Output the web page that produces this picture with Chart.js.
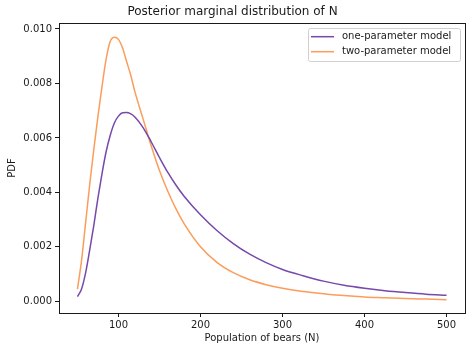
<!DOCTYPE html>
<html>
<head>
<meta charset="utf-8">
<script src="https://cdn.jsdelivr.net/npm/chart.js@4/dist/chart.umd.min.js"></script>
<style>
  html, body { margin: 0; padding: 0; background: #fff; }
  #chart { display: block; }
</style>
</head>
<body>
<canvas id="chart" width="472" height="352"></canvas>
<script>
// Datos
const populationN = [50, 55, 60, 65, 70, 75, 80, 85, 90, 95, 100, 105, 110, 115, 120, 130, 140, 150, 160, 170, 180, 200, 220, 240, 260, 280, 300, 325, 350, 375, 400, 425, 450, 475, 500];
const oneParam = [0.00017, 0.00045, 0.00105, 0.00190, 0.00280, 0.00380, 0.00470, 0.00550, 0.00610, 0.00655, 0.00680, 0.00692, 0.00693, 0.00688, 0.00677, 0.00638, 0.00585, 0.00528, 0.00474, 0.00427, 0.00386, 0.00318, 0.00260, 0.00212, 0.00173, 0.00142, 0.00117, 0.00094, 0.00074, 0.00059, 0.00048, 0.00039, 0.00032, 0.00026, 0.00022];
const twoParam = [0.00045, 0.00150, 0.00290, 0.00430, 0.00560, 0.00680, 0.00790, 0.00890, 0.00955, 0.00970, 0.00962, 0.00930, 0.00880, 0.00830, 0.00770, 0.00670, 0.00570, 0.00480, 0.00405, 0.00340, 0.00285, 0.00200, 0.00143, 0.00105, 0.00079, 0.00061, 0.00048, 0.00036, 0.00028, 0.00021, 0.00016, 0.00013, 0.00010, 0.00008, 0.00006];
const xTicks = [100, 200, 300, 400, 500];
const yTicks = [0, 0.002, 0.004, 0.006, 0.008, 0.010];
const seriesNames = ["one-parameter model", "two-parameter model"];

const FONT = "'DejaVu Sans', sans-serif";
const INK = "#1a1a1a";
const PURPLE = "#7649aa";
const ORANGE = "#fb9d5b";

const toPoints = (ys) => populationN.map((x, i) => ({ x, y: ys[i] }));

// Marco completo (4 lados) como matplotlib
const framePlugin = {
  id: "frame",
  afterDatasetsDraw(chart) {
    const { ctx, chartArea: a } = chart;
    ctx.save();
    ctx.strokeStyle = INK;
    ctx.lineWidth = 1;
    ctx.strokeRect(Math.round(a.left) + 0.5, Math.round(a.top) + 0.5,
      Math.round(a.right - a.left), Math.round(a.bottom - a.top));
    ctx.restore();
  }
};

// Leyenda dentro del area, con caja
const legendPlugin = {
  id: "boxLegend",
  afterDraw(chart) {
    const { ctx, chartArea: a } = chart;
    const right = a.right - 5, top = a.top + 5;
    const w = 152, h = 33;
    const left = right - w;
    ctx.save();
    ctx.beginPath();
    ctx.roundRect(left + 0.5, top + 0.5, w, h, 2);
    ctx.fillStyle = "rgba(255,255,255,0.8)";
    ctx.fill();
    ctx.strokeStyle = "#d0d0d0";
    ctx.lineWidth = 1;
    ctx.stroke();
    ctx.font = "10px " + FONT;
    ctx.textBaseline = "middle";
    chart.data.datasets.forEach((ds, i) => {
      const y = top + 8.7 + i * 15;
      ctx.strokeStyle = ds.borderColor;
      ctx.lineWidth = 1.5;
      ctx.beginPath();
      ctx.moveTo(left + 3, y);
      ctx.lineTo(left + 26, y);
      ctx.stroke();
      ctx.fillStyle = INK;
      ctx.fillText(ds.label, left + 34, y);
    });
    ctx.restore();
  }
};

new Chart(document.getElementById("chart").getContext("2d"), {
  type: "line",
  data: {
    datasets: [
      { label: seriesNames[0], data: toPoints(oneParam), borderColor: PURPLE, borderWidth: 1.5,
        pointRadius: 0, fill: false, cubicInterpolationMode: "monotone" },
      { label: seriesNames[1], data: toPoints(twoParam), borderColor: ORANGE, borderWidth: 1.5,
        pointRadius: 0, fill: false, cubicInterpolationMode: "monotone" }
    ]
  },
  options: {
    responsive: false,
    animation: false,
    devicePixelRatio: 1,
    layout: { padding: { left: 0, right: 7, top: 0, bottom: 0 } },
    plugins: {
      legend: { display: false },
      tooltip: { enabled: false },
      title: {
        display: true,
        text: "Posterior marginal distribution of N",
        color: INK,
        font: { family: FONT, size: 12, weight: "normal", lineHeight: 1.2 },
        padding: { top: 5, bottom: 3.6 }
      }
    },
    scales: {
      x: {
        type: "linear",
        min: 27.5,
        max: 522.5,
        afterBuildTicks: (s) => { s.ticks = xTicks.map(v => ({ value: v })); },
        afterFit: (s) => { s.height = 39; },
        grid: { drawOnChartArea: false, drawTicks: true, tickLength: 4, color: INK },
        border: { display: false },
        ticks: { color: INK, padding: 2, maxRotation: 0, font: { family: FONT, size: 10 } },
        title: { display: true, text: "Population of bears (N)", color: INK,
          font: { family: FONT, size: 10 }, padding: { top: 0, bottom: 8 } }
      },
      y: {
        type: "linear",
        min: -0.00043,
        max: 0.01022,
        afterBuildTicks: (s) => { s.ticks = yTicks.map(v => ({ value: v })); },
        afterFit: (s) => { s.width = 59; },
        grid: { drawOnChartArea: false, drawTicks: true, tickLength: 4, color: INK },
        border: { display: false },
        ticks: { color: INK, padding: 3, font: { family: FONT, size: 10 },
          callback: (v) => Number(v).toFixed(3) },
        title: { display: true, text: "PDF", color: INK,
          font: { family: FONT, size: 10 }, padding: { top: 6, bottom: 0 } }
      }
    }
  },
  plugins: [framePlugin, legendPlugin]
});
</script>
</body>
</html>
